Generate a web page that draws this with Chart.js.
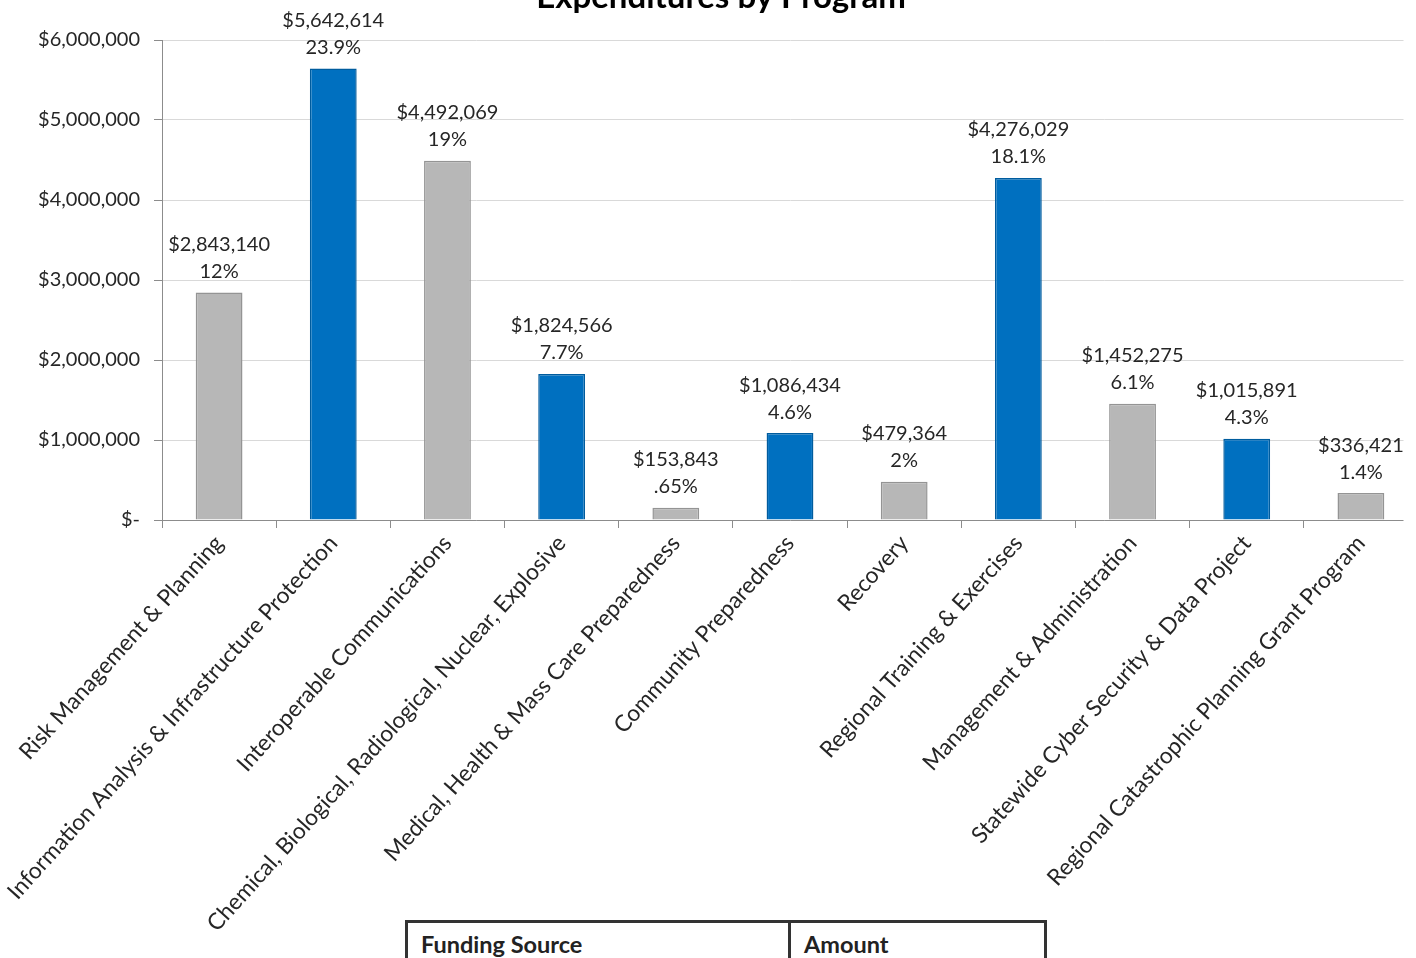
<!DOCTYPE html>
<html>
<head>
<meta charset="utf-8">
<script src="https://cdn.jsdelivr.net/npm/chart.js@4.4.0/dist/chart.umd.min.js"></script>
<style>
  html, body { margin: 0; padding: 0; background: #fff; overflow: hidden; }
  #wrap { position: absolute; left: 0; top: 0; width: 1416px; height: 958px; overflow: hidden; }
  #tbl { position: absolute; left: 405px; top: 920px; width: 642px; border-collapse: collapse; background: #fff;
         font-family: Lato, "DejaVu Sans", sans-serif; font-weight: bold; font-size: 23.5px; color: #222; }
  #tbl td { border: 3px solid #333; padding: 7px 12px 8px 13px; height: 40px; vertical-align: top; }
</style>
</head>
<body>
<div id="wrap"><canvas id="c" width="1440" height="958"></canvas></div>
<table id="tbl"><tr><td style="width:355px">Funding Source</td><td>Amount</td></tr></table>
<script>
const categories = [
  "Risk Management & Planning",
  "Information Analysis & Infrastructure Protection",
  "Interoperable Communications",
  "Chemical, Biological, Radiological, Nuclear, Explosive",
  "Medical, Health & Mass Care Preparedness",
  "Community Preparedness",
  "Recovery",
  "Regional Training & Exercises",
  "Management & Administration",
  "Statewide Cyber Security & Data Project",
  "Regional Catastrophic Planning Grant Program"
];
const amounts = [2843140, 5642614, 4492069, 1824566, 153843, 1086434, 479364, 4276029, 1452275, 1015891, 336421];
const percentLabels = ["12%", "23.9%", "19%", "7.7%", ".65%", "4.6%", "2%", "18.1%", "6.1%", "4.3%", "1.4%"];
const barColorKeys = ["gray", "blue", "gray", "blue", "gray", "blue", "gray", "blue", "gray", "blue", "gray"];
const yTicks = [0, 1000000, 2000000, 3000000, 4000000, 5000000, 6000000];

const FONT = 'Lato, "DejaVu Sans", sans-serif';
const palette = { gray: "#B7B7B7", blue: "#0070C0" };
const borders = { gray: "#949494", blue: "#005C9E" };

function money(v) { return v === 0 ? "$-" : "$" + v.toLocaleString("en-US"); }

const labelPlugin = {
  id: "labels",
  beforeDatasetsDraw(chart) {
    // the visible plot frame stops at x=1403; hide the grid beyond it
    const ctx = chart.ctx;
    ctx.save();
    ctx.fillStyle = "#fff";
    ctx.fillRect(1403.5, 0, 60, chart.chartArea.bottom + 2);
    ctx.restore();
  },
  afterDatasetsDraw(chart) {
    const ctx = chart.ctx;
    const meta = chart.getDatasetMeta(0);
    ctx.save();
    ctx.font = "20px " + FONT;
    ctx.fillStyle = "#262626";
    ctx.textAlign = "center";
    ctx.textBaseline = "middle";
    meta.data.forEach((bar, i) => {
      ctx.fillText(money(amounts[i]), bar.x, bar.y - 48);
      ctx.fillText(percentLabels[i], bar.x, bar.y - 21);
    });
    ctx.restore();
  },
  afterDraw(chart) {
    const ctx = chart.ctx;
    ctx.save();
    ctx.font = "bold 33px " + FONT;
    ctx.fillStyle = "#000";
    ctx.textAlign = "center";
    ctx.textBaseline = "alphabetic";
    ctx.fillText("Expenditures by Program", 721, 8);
    ctx.restore();
  }
};

new Chart(document.getElementById("c"), {
  type: "bar",
  data: {
    labels: categories,
    datasets: [{
      data: amounts,
      backgroundColor: barColorKeys.map(k => palette[k]),
      borderColor: barColorKeys.map(k => borders[k]),
      borderWidth: 1.5,
      categoryPercentage: 1,
      barPercentage: 0.41
    }]
  },
  options: {
    responsive: false,
    animation: false,
    devicePixelRatio: 1,
    layout: { padding: { top: 40, right: 22, left: 0, bottom: 0 } },
    plugins: { legend: { display: false }, title: { display: false }, tooltip: { enabled: false } },
    scales: {
      x: {
        grid: { display: true, offset: true, drawOnChartArea: false, color: "#8C8C8C", tickLength: 8 },
        border: { display: true, color: "#8C8C8C", width: 1 },
        ticks: { color: "#262626", font: { family: FONT, size: 22.8 }, maxRotation: 48, minRotation: 48, autoSkip: false, padding: 2 },
        afterFit(scale) { scale.height = 958 - 520; scale.paddingLeft = 0; scale.paddingRight = 0; }
      },
      y: {
        min: 0, max: 6000000,
        afterBuildTicks(scale) { scale.ticks = yTicks.map(v => ({ value: v })); },
        grid: { color: "#D9D9D9", tickLength: 8, tickColor: "#8C8C8C" },
        border: { display: true, color: "#8C8C8C", width: 1 },
        ticks: { color: "#262626", font: { family: FONT, size: 20 }, padding: 14, callback: v => money(v) },
        afterFit(scale) { scale.width = 162; scale.paddingTop = 0; scale.paddingBottom = 0; }
      }
    }
  },
  plugins: [labelPlugin]
});
</script>
</body>
</html>
